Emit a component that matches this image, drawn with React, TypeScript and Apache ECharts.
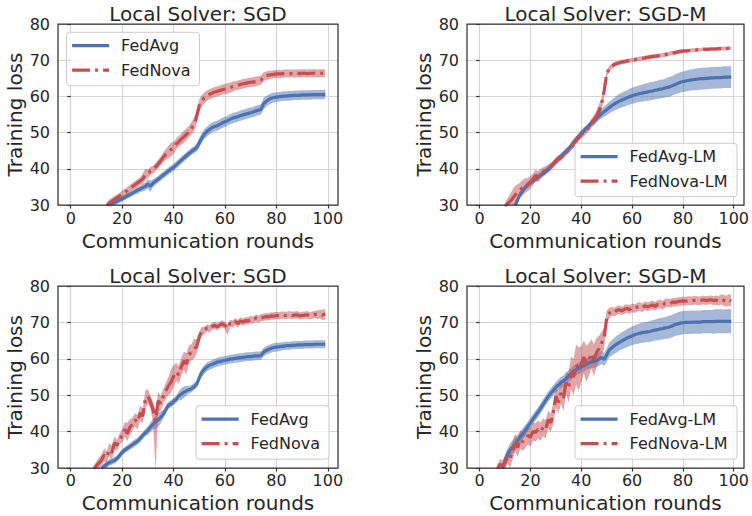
import React, { useEffect, useRef } from "react";
import * as echarts from "echarts";

const TITLES = ["Local Solver: SGD", "Local Solver: SGD-M", "Local Solver: SGD", "Local Solver: SGD-M"];
const AVG_NAMES = ["FedAvg", "FedAvg-LM", "FedAvg", "FedAvg-LM"];
const NOVA_NAMES = ["FedNova", "FedNova-LM", "FedNova", "FedNova-LM"];
const X_TICKS = [0, 20, 40, 60, 80, 100];
const X_NAME = "Communication rounds";
const Y_NAME = "Training loss";

// Panel 1 (SGD, top)
const p1AvgStart = 15;
const p1Avg = [29.8, 30.3, 30.7, 31.0, 31.4, 31.7, 32.1, 32.5, 32.9, 33.3,
  33.7, 34.1, 34.4, 34.8, 35.1, 35.8, 35.2, 36.0, 36.6, 37.1,
  37.7, 38.3, 38.8, 39.4, 39.9, 40.4, 41.0, 41.7, 42.3, 43.0,
  43.6, 44.2, 44.8, 45.3, 45.9, 47.2, 48.5, 49.6, 50.3, 50.9,
  51.4, 51.7, 51.9, 52.3, 52.7, 53.0, 53.3, 53.7, 54.0, 54.2,
  54.4, 54.7, 54.9, 55.1, 55.3, 55.5, 55.7, 56.0, 56.2, 56.4,
  58.0, 58.6, 59.1, 59.5, 59.7, 59.8, 59.9, 60.0, 60.1, 60.1,
  60.2, 60.2, 60.3, 60.3, 60.3, 60.4, 60.4, 60.4, 60.4, 60.5,
  60.5, 60.5, 60.5, 60.5, 60.6];
const p1AvgSpread = [0.8, 0.8, 0.8, 0.8, 0.8, 0.8, 0.8, 0.8, 0.8, 0.8,
  0.9, 0.9, 0.9, 1.0, 1.1, 1.3, 1.6, 1.1, 1.0, 1.0,
  1.0, 1.0, 1.0, 1.0, 1.0, 1.0, 1.0, 1.0, 1.0, 1.0,
  1.0, 1.0, 1.0, 1.0, 1.1, 1.3, 1.4, 1.4, 1.4, 1.4,
  1.4, 1.4, 1.4, 1.4, 1.4, 1.4, 1.4, 1.4, 1.4, 1.4,
  1.4, 1.4, 1.4, 1.4, 1.4, 1.4, 1.4, 1.4, 1.4, 1.4,
  1.6, 1.5, 1.4, 1.4, 1.4, 1.3, 1.3, 1.3, 1.3, 1.3,
  1.3, 1.3, 1.3, 1.3, 1.3, 1.3, 1.3, 1.3, 1.3, 1.3,
  1.3, 1.3, 1.3, 1.3, 1.3];
const p1NovaStart = 14;
const p1Nova = [29.8, 30.5, 31.0, 31.5, 32.0, 32.4, 33.0, 33.5, 34.0, 34.6,
  35.1, 35.6, 36.1, 36.6, 37.2, 38.4, 38.6, 39.4, 39.8, 40.5,
  41.3, 42.2, 43.2, 44.0, 44.6, 45.3, 45.8, 46.8, 47.5, 48.2,
  48.8, 49.5, 50.3, 51.2, 52.2, 54.5, 57.5, 58.8, 59.6, 60.2,
  60.6, 60.9, 61.2, 61.4, 61.6, 61.9, 62.0, 62.2, 62.4, 62.7,
  62.9, 63.1, 63.3, 63.5, 63.6, 63.8, 63.9, 64.0, 64.1, 64.3,
  64.5, 65.4, 65.7, 65.9, 66.0, 66.1, 66.2, 66.2, 66.2, 66.3,
  66.3, 66.3, 66.3, 66.3, 66.4, 66.3, 66.4, 66.4, 66.3, 66.4,
  66.4, 66.4, 66.3, 66.4, 66.4, 66.4];
const p1NovaSpread = [1.0, 1.0, 1.0, 1.0, 1.0, 1.0, 1.0, 1.0, 1.0, 1.0,
  1.0, 1.0, 1.1, 1.1, 1.4, 1.6, 1.3, 1.1, 1.1, 1.1,
  1.2, 1.3, 1.4, 1.5, 1.7, 1.9, 1.7, 1.5, 1.5, 1.6,
  1.7, 1.6, 1.6, 1.7, 1.9, 1.9, 1.7, 1.6, 1.5, 1.5,
  1.4, 1.4, 1.4, 1.4, 1.4, 1.4, 1.4, 1.4, 1.4, 1.4,
  1.3, 1.3, 1.3, 1.3, 1.3, 1.3, 1.3, 1.3, 1.3, 1.3,
  1.3, 1.3, 1.2, 1.2, 1.1, 1.1, 1.1, 1.1, 1.1, 1.1,
  1.1, 1.1, 1.1, 1.1, 1.1, 1.1, 1.1, 1.1, 1.1, 1.1,
  1.1, 1.1, 1.1, 1.1, 1.1, 1.1];

// Panel 2 (SGD-M, top)
const p2AvgStart = 14;
const p2Avg = [29.8, 31.5, 33.0, 34.0, 34.9, 35.6, 36.2, 36.7, 37.2, 37.7,
  38.2, 38.7, 39.3, 39.9, 40.6, 41.3, 42.0, 42.8, 43.4, 44.1,
  44.8, 45.5, 46.3, 47.1, 48.0, 48.9, 49.8, 50.5, 51.2, 51.9,
  52.6, 53.2, 53.9, 54.6, 55.2, 55.8, 56.3, 56.9, 57.4, 57.9,
  58.3, 58.7, 59.0, 59.3, 59.6, 59.9, 60.2, 60.4, 60.6, 60.8,
  60.9, 61.1, 61.2, 61.4, 61.5, 61.7, 61.8, 62.0, 62.1, 62.3,
  62.5, 62.7, 63.0, 63.3, 63.6, 63.9, 64.1, 64.2, 64.4, 64.5,
  64.6, 64.7, 64.8, 64.9, 64.9, 65.0, 65.0, 65.1, 65.1, 65.2,
  65.2, 65.2, 65.3, 65.3, 65.3, 65.3];
const p2AvgSpread = [0.9, 0.9, 0.9, 0.9, 0.9, 0.9, 0.9, 0.9, 0.9, 0.9,
  0.9, 0.9, 0.9, 0.9, 0.9, 0.9, 0.9, 0.9, 0.9, 0.9,
  0.9, 0.9, 1.1, 1.3, 1.0, 0.9, 0.9, 0.9, 0.9, 0.9,
  1.0, 1.0, 1.1, 1.2, 1.3, 1.4, 1.5, 1.6, 1.7, 1.8,
  1.9, 2.0, 2.0, 2.1, 2.1, 2.2, 2.2, 2.3, 2.3, 2.3,
  2.4, 2.4, 2.4, 2.5, 2.5, 2.5, 2.5, 2.6, 2.6, 2.6,
  2.7, 2.7, 2.7, 2.8, 2.8, 2.8, 2.8, 2.9, 2.9, 2.9,
  2.9, 3.0, 3.0, 3.0, 3.0, 3.0, 3.0, 3.0, 3.0, 3.0,
  3.0, 3.0, 3.0, 3.0, 3.0, 3.0];
const p2NovaStart = 10;
const p2Nova = [29.5, 30.4, 31.0, 31.8, 32.8, 33.5, 34.2, 34.8, 35.4, 35.6,
  36.3, 37.0, 38.2, 37.8, 38.6, 39.2, 39.6, 40.1, 40.6, 41.3,
  42.2, 42.7, 43.1, 43.8, 44.4, 45.2, 46.0, 47.0, 47.8, 48.6,
  49.5, 50.0, 50.6, 51.5, 52.6, 53.5, 54.5, 56.0, 57.8, 61.5,
  66.2, 67.6, 68.3, 68.8, 69.1, 69.3, 69.5, 69.6, 69.8, 69.9,
  70.0, 70.1, 70.3, 70.4, 70.5, 70.6, 70.8, 70.9, 71.0, 71.1,
  71.2, 71.3, 71.4, 71.5, 71.7, 71.9, 72.0, 72.1, 72.3, 72.4,
  72.5, 72.6, 72.6, 72.7, 72.8, 72.8, 72.9, 72.9, 73.0, 73.0,
  73.0, 73.1, 73.1, 73.1, 73.2, 73.2, 73.2, 73.2, 73.3, 73.3];
const p2NovaSpread = [1.0, 1.5, 2.0, 2.5, 2.5, 2.2, 2.0, 2.2, 2.0, 1.8,
  1.8, 1.6, 1.6, 1.5, 1.4, 1.2, 1.2, 1.1, 1.0, 1.0,
  1.0, 1.0, 0.9, 0.9, 0.9, 1.0, 1.0, 1.1, 1.2, 1.0,
  1.0, 1.0, 1.0, 1.1, 1.2, 1.4, 1.6, 1.8, 1.8, 1.5,
  1.0, 0.8, 0.7, 0.7, 0.6, 0.6, 0.6, 0.6, 0.6, 0.6,
  0.6, 0.6, 0.6, 0.6, 0.6, 0.6, 0.6, 0.6, 0.6, 0.6,
  0.6, 0.6, 0.6, 0.6, 0.6, 0.6, 0.6, 0.6, 0.6, 0.6,
  0.5, 0.5, 0.5, 0.5, 0.5, 0.5, 0.5, 0.5, 0.5, 0.5,
  0.5, 0.5, 0.5, 0.5, 0.5, 0.5, 0.5, 0.5, 0.5, 0.5];

// Panel 3 (SGD, bottom)
const p3AvgStart = 12;
const p3Avg = [29.8, 30.5, 31.0, 31.5, 31.8, 32.1, 32.6, 33.4, 34.3, 34.9,
  35.4, 35.9, 36.4, 36.9, 37.4, 38.1, 38.9, 39.7, 40.3, 41.2,
  42.0, 42.6, 43.2, 43.9, 44.8, 46.0, 47.3, 47.6, 48.3, 48.8,
  49.8, 50.3, 50.8, 51.2, 51.5, 51.8, 52.4, 53.0, 54.8, 56.3,
  57.1, 57.8, 58.2, 58.5, 58.8, 59.1, 59.3, 59.4, 59.6, 59.7,
  59.9, 60.0, 60.1, 60.2, 60.3, 60.4, 60.5, 60.6, 60.6, 60.7,
  60.8, 60.8, 60.9, 61.8, 62.3, 62.6, 62.9, 63.1, 63.2, 63.3,
  63.4, 63.5, 63.6, 63.6, 63.7, 63.7, 63.8, 63.8, 63.8, 63.9,
  63.9, 63.9, 63.9, 64.0, 64.0, 64.0, 64.0, 64.0];
const p3AvgSpread = [0.9, 0.9, 0.9, 0.9, 0.9, 0.9, 0.9, 0.9, 0.9, 0.9,
  0.9, 0.9, 1.0, 1.0, 1.0, 1.0, 1.0, 1.0, 1.2, 1.4,
  1.4, 1.8, 2.0, 1.6, 1.2, 1.0, 1.0, 1.0, 1.0, 1.0,
  1.2, 1.6, 1.6, 1.3, 1.0, 1.0, 1.0, 1.0, 1.1, 1.2,
  1.2, 1.2, 1.2, 1.2, 1.2, 1.2, 1.2, 1.2, 1.2, 1.2,
  1.2, 1.2, 1.2, 1.2, 1.2, 1.2, 1.2, 1.2, 1.2, 1.2,
  1.2, 1.2, 1.2, 1.2, 1.2, 1.2, 1.2, 1.2, 1.2, 1.2,
  1.1, 1.1, 1.1, 1.1, 1.1, 1.1, 1.1, 1.1, 1.1, 1.1,
  1.1, 1.1, 1.1, 1.1, 1.1, 1.1, 1.1, 1.1];
const p3NovaStart = 9;
const p3Nova = [29.8, 30.6, 31.4, 32.2, 33.6, 33.0, 35.0, 34.2, 36.9, 36.2,
  38.0, 38.8, 40.6, 39.4, 41.2, 42.0, 43.3, 42.6, 45.1, 44.2,
  48.8, 49.7, 48.2, 46.1, 43.0, 48.4, 47.8, 49.7, 51.2, 52.5,
  53.6, 55.2, 56.4, 55.6, 57.8, 59.4, 58.6, 61.2, 61.8, 62.6,
  63.4, 66.0, 67.6, 67.8, 68.5, 68.2, 68.9, 69.2, 68.8, 69.3,
  69.6, 69.2, 68.4, 69.8, 69.5, 70.2, 69.7, 70.4, 70.1, 70.5,
  70.4, 70.8, 70.6, 71.2, 70.9, 71.3, 71.4, 71.6, 71.5, 71.8,
  71.7, 71.9, 71.8, 72.0, 71.9, 71.9, 72.1, 71.9, 72.0, 72.1,
  71.8, 71.9, 72.0, 72.1, 71.8, 72.0, 72.2, 72.1, 72.3, 72.0, 72.4];
const p3NovaUp = [1.0, 1.2, 1.5, 1.5, 1.8, 1.5, 1.8, 2.0, 1.8, 1.5,
  1.5, 1.8, 2.0, 3.0, 2.2, 1.8, 1.8, 2.0, 2.2, 2.0,
  2.5, 2.0, 1.8, 2.0, 3.0, 2.5, 2.0, 2.0, 2.2, 2.5,
  3.5, 3.0, 2.5, 2.5, 2.5, 2.5, 3.0, 2.5, 2.2, 3.0,
  2.0, 1.5, 1.2, 1.0, 1.0, 1.0, 1.0, 1.0, 1.0, 1.0,
  1.0, 1.0, 1.0, 1.0, 1.0, 1.0, 1.0, 1.0, 1.0, 1.0,
  1.0, 1.0, 1.0, 1.0, 1.0, 1.0, 1.0, 1.0, 1.0, 1.0,
  1.0, 1.0, 1.0, 1.0, 1.0, 1.0, 1.0, 1.0, 1.0, 1.0,
  1.0, 1.0, 1.0, 1.0, 1.0, 1.0, 1.0, 1.2, 1.2, 1.5, 1.5];
const p3NovaDown = [1.0, 1.2, 1.5, 1.5, 1.8, 1.5, 1.8, 2.0, 1.8, 1.5,
  1.5, 1.8, 2.0, 2.0, 2.2, 1.8, 1.8, 2.0, 2.2, 2.0,
  2.5, 2.0, 1.8, 3.5, 14.0, 3.0, 2.0, 2.0, 2.2, 2.5,
  3.0, 3.0, 2.5, 2.5, 2.5, 2.5, 3.0, 2.5, 2.2, 2.5,
  2.0, 1.5, 1.2, 1.0, 1.0, 1.0, 1.0, 1.0, 1.0, 1.0,
  1.0, 1.0, 2.0, 1.0, 1.0, 1.0, 1.0, 1.0, 1.0, 1.0,
  1.0, 1.0, 1.0, 1.0, 1.0, 1.0, 1.0, 1.0, 1.0, 1.0,
  1.0, 1.0, 1.0, 1.0, 1.0, 1.0, 1.0, 1.0, 1.0, 1.0,
  1.0, 1.0, 1.0, 1.0, 1.0, 1.0, 1.0, 1.2, 1.2, 1.5, 1.5];

// Panel 4 (SGD-M, bottom)
const p4AvgStart = 9;
const p4Avg = [29.8, 32.0, 33.6, 34.9, 35.8, 36.7, 37.6, 38.5, 39.4, 40.4,
  41.4, 42.4, 43.4, 44.4, 45.3, 46.4, 47.5, 48.5, 49.6, 50.5,
  51.3, 52.2, 52.8, 53.5, 53.9, 54.5, 55.3, 55.9, 56.5, 57.0,
  57.4, 57.8, 58.1, 58.5, 58.9, 59.1, 59.3, 59.5, 59.9, 60.4,
  59.8, 61.0, 62.4, 63.0, 63.6, 64.0, 64.5, 64.9, 65.3, 65.7,
  66.0, 66.3, 66.6, 66.8, 67.0, 67.2, 67.3, 67.4, 67.5, 67.7,
  67.9, 68.0, 68.2, 68.3, 68.5, 68.6, 68.8, 69.1, 69.4, 69.6,
  69.8, 69.9, 70.0, 70.0, 70.0, 70.1, 70.1, 70.1, 70.1, 70.2,
  70.2, 70.2, 70.2, 70.2, 70.3, 70.3, 70.3, 70.3, 70.3, 70.3, 70.3];
const p4AvgSpread = [1.0, 1.5, 1.8, 1.8, 1.8, 1.8, 1.6, 1.5, 1.5, 1.4,
  1.4, 1.4, 1.4, 1.4, 1.4, 1.4, 1.4, 1.4, 1.4, 1.4,
  1.4, 1.4, 1.5, 1.5, 1.5, 1.6, 1.6, 1.6, 1.6, 1.6,
  1.6, 1.6, 1.6, 1.6, 1.6, 1.7, 1.7, 1.8, 1.8, 1.8,
  1.8, 1.9, 2.0, 2.1, 2.2, 2.3, 2.3, 2.4, 2.4, 2.5,
  2.5, 2.6, 2.6, 2.7, 2.7, 2.8, 2.8, 2.8, 2.9, 2.9,
  2.9, 3.0, 3.0, 3.0, 3.0, 3.1, 3.1, 3.1, 3.1, 3.2,
  3.2, 3.2, 3.2, 3.2, 3.2, 3.2, 3.2, 3.2, 3.2, 3.2,
  3.2, 3.2, 3.2, 3.3, 3.3, 3.3, 3.3, 3.3, 3.3, 3.3, 3.3];
const p4NovaStart = 7;
const p4Nova = [29.8, 31.0, 30.6, 31.5, 33.2, 32.6, 34.8, 36.9, 35.6, 37.8,
  37.2, 38.0, 38.9, 38.4, 40.0, 39.8, 40.6, 40.0, 41.2, 40.6,
  43.3, 42.4, 45.1, 49.7, 48.0, 50.6, 49.2, 53.4, 52.0, 56.1,
  55.0, 58.4, 57.2, 58.4, 60.5, 58.6, 59.8, 61.4, 59.6, 61.7,
  62.8, 64.4, 65.5, 71.3, 72.5, 73.1, 72.8, 73.3, 73.5, 73.2,
  73.6, 73.8, 73.5, 74.0, 73.8, 74.2, 74.4, 74.0, 74.6, 74.3,
  74.5, 74.8, 74.4, 74.9, 75.1, 74.7, 75.3, 75.4, 75.2, 75.6,
  75.5, 75.7, 75.8, 75.9, 75.8, 76.0, 75.9, 76.0, 76.1, 75.9,
  76.0, 76.2, 76.0, 76.1, 76.2, 76.0, 76.1, 75.9, 76.3, 76.1, 75.8, 76.2, 75.9];
const p4NovaSpread = [1.0, 1.5, 1.5, 2.0, 2.0, 2.5, 2.5, 2.5, 2.5, 2.5,
  2.5, 2.5, 2.5, 2.5, 2.5, 2.5, 2.5, 2.5, 2.5, 2.5,
  2.5, 2.5, 3.0, 3.0, 3.0, 3.0, 3.5, 3.0, 4.0, 4.5,
  5.0, 5.5, 6.0, 5.0, 4.5, 5.0, 4.5, 4.0, 4.5, 4.0,
  3.5, 3.0, 3.0, 2.0, 1.5, 1.2, 1.2, 1.2, 1.2, 1.2,
  1.2, 1.2, 1.2, 1.2, 1.2, 1.2, 1.2, 1.2, 1.2, 1.2,
  1.2, 1.2, 1.2, 1.2, 1.2, 1.2, 1.2, 1.2, 1.2, 1.2,
  1.2, 1.2, 1.2, 1.2, 1.2, 1.2, 1.2, 1.2, 1.2, 1.2,
  1.2, 1.2, 1.2, 1.2, 1.2, 1.2, 1.3, 1.3, 1.4, 1.5, 1.5, 1.6, 1.6];

const PANELS = [
  { avgStart: p1AvgStart, avg: p1Avg, avgUp: p1AvgSpread, avgDown: p1AvgSpread, novaStart: p1NovaStart, nova: p1Nova, novaUp: p1NovaSpread, novaDown: p1NovaSpread },
  { avgStart: p2AvgStart, avg: p2Avg, avgUp: p2AvgSpread, avgDown: p2AvgSpread, novaStart: p2NovaStart, nova: p2Nova, novaUp: p2NovaSpread, novaDown: p2NovaSpread },
  { avgStart: p3AvgStart, avg: p3Avg, avgUp: p3AvgSpread, avgDown: p3AvgSpread, novaStart: p3NovaStart, nova: p3Nova, novaUp: p3NovaUp, novaDown: p3NovaDown },
  { avgStart: p4AvgStart, avg: p4Avg, avgUp: p4AvgSpread, avgDown: p4AvgSpread, novaStart: p4NovaStart, nova: p4Nova, novaUp: p4NovaSpread, novaDown: p4NovaSpread },
];

// layout
const GRIDS = [
  { left: 58, top: 24, width: 280, height: 181 },
  { left: 467, top: 24, width: 277, height: 181 },
  { left: 58, top: 286, width: 280, height: 182 },
  { left: 467, top: 286, width: 277, height: 182 },
];
const LEGEND_BOXES = [
  { x: 66.5, y: 32.3, w: 133, h: 53.4 },
  { x: 575, y: 143.3, w: 162, h: 53.4 },
  { x: 196, y: 405.7, w: 133, h: 53.4 },
  { x: 575, y: 405.7, w: 162, h: 53.4 },
];
const X_NAME_GAPS = [26, 26, 25, 25];
const X_LABEL_MARGINS = [6, 6, 5, 5];

const BLUE = "#4C72B0";
const RED = "#C44E52";
const BLUE_BAND = "rgba(76,114,176,0.5)";
const RED_BAND = "rgba(196,78,82,0.5)";
const TEXT = "#262626";
const FONT = "DejaVu Sans";

const pairs = (start: number, vals: number[]) => vals.map((v, i) => [start + i, v]);

function bandSeries(p: number, start: number, mean: number[], up: number[], down: number[], color: string) {
  return {
    type: "custom",
    xAxisIndex: p,
    yAxisIndex: p,
    silent: true,
    z: 1,
    clip: true,
    data: [[start, mean[0]]],
    encode: { x: 0, y: 1 },
    renderItem: (params: any, api: any) => {
      const upper = mean.map((v, i) => api.coord([start + i, v + up[i]]));
      const lower = mean.map((v, i) => api.coord([start + i, v - down[i]])).reverse();
      const cs = params.coordSys;
      return {
        type: "polygon",
        shape: { points: upper.concat(lower) },
        style: { fill: color, stroke: "none" },
        clipPath: { type: "rect", shape: { x: cs.x, y: cs.y, width: cs.width, height: cs.height } },
      };
    },
  };
}

export default function App() {
  const ref = useRef<HTMLDivElement>(null);
  useEffect(() => {
    if (!ref.current) return;
    const chart = echarts.init(ref.current, undefined, { renderer: "svg" });
    const series: any[] = [];
    PANELS.forEach((pd, p) => {
      series.push(bandSeries(p, pd.avgStart, pd.avg, pd.avgUp, pd.avgDown, BLUE_BAND));
      series.push(bandSeries(p, pd.novaStart, pd.nova, pd.novaUp, pd.novaDown, RED_BAND));
    });
    PANELS.forEach((pd, p) => {
      series.push({
        name: AVG_NAMES[p], type: "line", xAxisIndex: p, yAxisIndex: p,
        data: pairs(pd.avgStart, pd.avg), symbol: "none", z: 3,
        itemStyle: { color: BLUE },
        lineStyle: { color: BLUE, width: 3.2 },
      });
      series.push({
        name: NOVA_NAMES[p], type: "line", xAxisIndex: p, yAxisIndex: p,
        data: pairs(pd.novaStart, pd.nova), symbol: "none", z: 4,
        itemStyle: { color: RED },
        lineStyle: { color: RED, width: 3.2, type: [18, 5, 3, 5], cap: "butt" },
      });
    });

    const option: any = {
      animation: false,
      backgroundColor: "#ffffff",
      textStyle: { fontFamily: FONT, color: TEXT },
      title: GRIDS.map((g, i) => ({
        text: TITLES[i],
        left: g.left + g.width / 2,
        top: g.top - 20,
        textAlign: "center",
        padding: 0,
        textStyle: { fontFamily: FONT, fontSize: 20, fontWeight: "normal", color: TEXT },
      })),
      grid: GRIDS.map((g) => ({ ...g, containLabel: false, show: false })),
      xAxis: GRIDS.map((g, i) => ({
        type: "value", gridIndex: i, min: -4.95, max: 103.95,
        name: X_NAME, nameLocation: "middle", nameGap: X_NAME_GAPS[i],
        nameTextStyle: { fontFamily: FONT, fontSize: 20, lineHeight: 20, color: TEXT },
        axisLine: { show: false },
        axisTick: { show: true, length: 3.5, customValues: X_TICKS, lineStyle: { color: "#333", width: 1.2 } },
        axisLabel: { show: true, customValues: X_TICKS, margin: X_LABEL_MARGINS[i], fontFamily: FONT, fontSize: 16, lineHeight: 14, color: TEXT },
        splitLine: { show: true, lineStyle: { color: "#d5d5d5", width: 1.2 } },
      })),
      yAxis: GRIDS.map((g, i) => ({
        type: "value", gridIndex: i, min: 30, max: 80, interval: 10,
        name: Y_NAME, nameLocation: "middle", nameGap: 33,
        nameTextStyle: { fontFamily: FONT, fontSize: 20, color: TEXT },
        axisLine: { show: false },
        axisTick: { show: true, length: 3.5, lineStyle: { color: "#333", width: 1.2 } },
        axisLabel: { margin: 8, fontFamily: FONT, fontSize: 16, color: TEXT },
        splitLine: { show: true, lineStyle: { color: "#d5d5d5", width: 1.2 } },
      })),
      legend: LEGEND_BOXES.map((b, i) => ({
        data: [AVG_NAMES[i], NOVA_NAMES[i]],
        orient: "vertical",
        left: b.x + 4,
        top: b.y + 13.4 - 8,
        padding: 0,
        itemWidth: 37,
        itemHeight: 14,
        itemGap: 8.5,
        z: 20,
        selectedMode: false,
        itemStyle: { opacity: 0 },
        lineStyle: { width: 3.2 },
        textStyle: { fontFamily: FONT, fontSize: 16, lineHeight: 16, color: TEXT, padding: [0, 0, 0, 7] },
      })),
      graphic: [
        ...GRIDS.map((g) => ({
          type: "rect", silent: true, z: 8,
          shape: { x: g.left, y: g.top, width: g.width, height: g.height },
          style: { fill: "none", stroke: "#333333", lineWidth: 1.25 },
        })),
        ...LEGEND_BOXES.map((b) => ({
          type: "rect", silent: true, z: 10,
          shape: { x: b.x, y: b.y, width: b.w, height: b.h, r: 3 },
          style: { fill: "rgba(255,255,255,0.8)", stroke: "#cccccc", lineWidth: 1 },
        })),
      ],
      series,
    };
    chart.setOption(option);
    return () => chart.dispose();
  }, []);
  return <div ref={ref} style={{ position: "absolute", left: 0, top: 0, width: 752, height: 516 }} />;
}
